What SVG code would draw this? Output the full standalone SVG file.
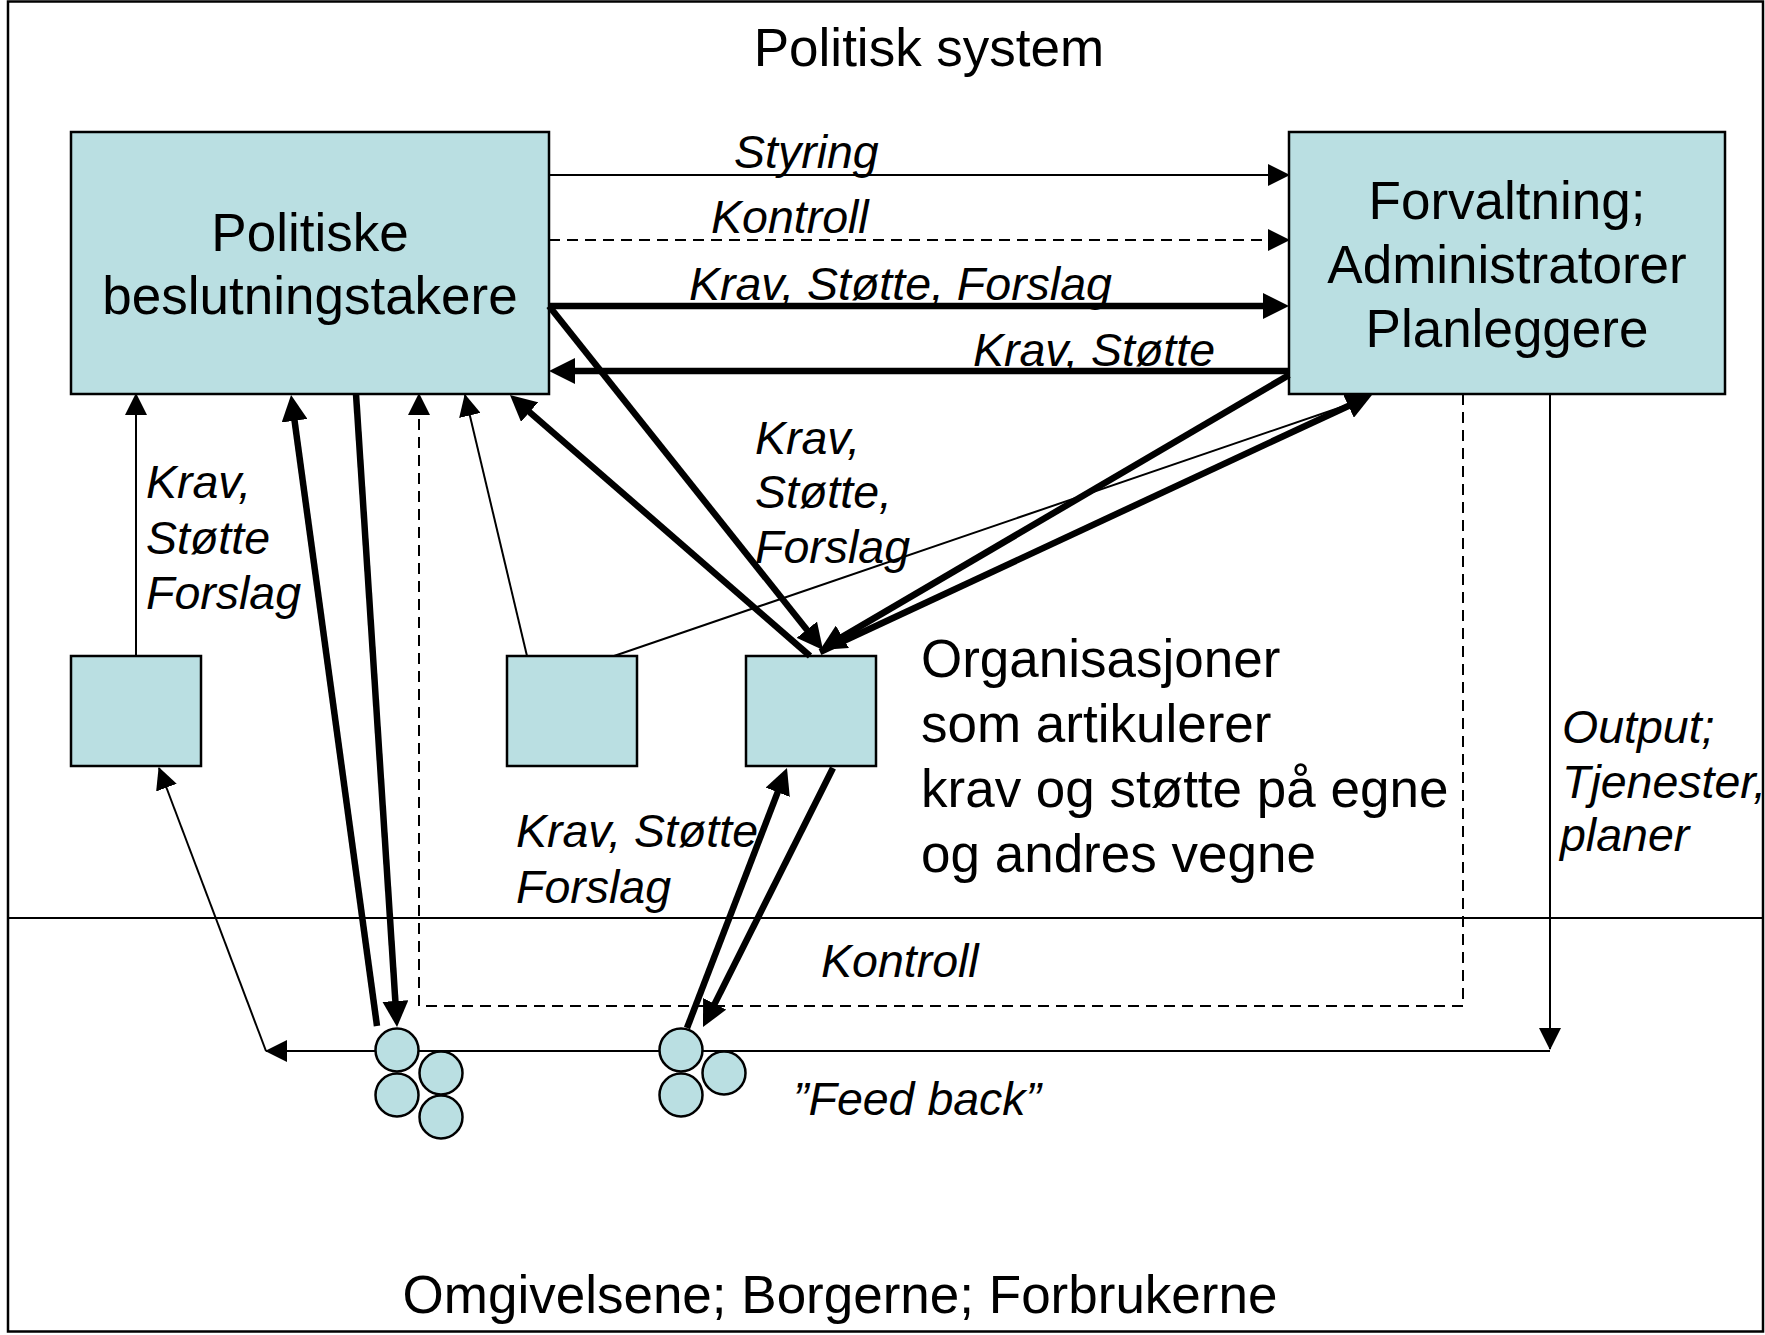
<svg xmlns="http://www.w3.org/2000/svg" width="1765" height="1335" viewBox="0 0 1765 1335">
<style>
.box{fill:#BADFE2;stroke:#000;stroke-width:2.5}
.main{font-family:"Liberation Sans",Arial,sans-serif;font-size:53px;fill:#000}
.lbl{font-family:"Liberation Sans",Arial,sans-serif;font-size:46.5px;font-style:italic;fill:#000}
.thin{fill:none;stroke:#000;stroke-width:2}
.dash{fill:none;stroke:#000;stroke-width:2;stroke-dasharray:11 7}
.thick{fill:none;stroke:#000;stroke-width:6.5}
.ta{marker-end:url(#arrThin)}
.tk{marker-end:url(#arrThick)}
</style>
<defs>
<marker id="arrThin" markerUnits="userSpaceOnUse" viewBox="0 0 22 22" markerWidth="22" markerHeight="22" refX="21" refY="11" orient="auto">
<path d="M0,0 L22,11 L0,22 z" fill="#000"/>
</marker>
<marker id="arrThick" markerUnits="userSpaceOnUse" viewBox="0 0 26 26" markerWidth="26" markerHeight="26" refX="16" refY="13" orient="auto">
<path d="M0,0 L26,13 L0,26 z" fill="#000"/>
</marker>
</defs>
<rect x="0" y="0" width="1765" height="1335" fill="#fff"/>
<g id="frame">
<rect x="8" y="1.5" width="1755" height="1330" fill="none" stroke="#000" stroke-width="2.5"/>
<line x1="8" y1="918" x2="1763" y2="918" stroke="#000" stroke-width="2"/>
<text class="main" x="929" y="66" text-anchor="middle">Politisk system</text>
<text class="main" x="840" y="1313" text-anchor="middle">Omgivelsene; Borgerne; Forbrukerne</text>
</g>
<g id="node-politiske">
<rect class="box" x="71" y="132" width="478" height="262"/>
<text class="main" x="310" y="251" text-anchor="middle">Politiske</text>
<text class="main" x="310" y="314" text-anchor="middle">beslutningstakere</text>
</g>
<g id="node-forvaltning">
<rect class="box" x="1289" y="132" width="436" height="262"/>
<text class="main" x="1507" y="219" text-anchor="middle">Forvaltning;</text>
<text class="main" x="1507" y="283" text-anchor="middle">Administratorer</text>
<text class="main" x="1507" y="347" text-anchor="middle">Planleggere</text>
</g>
<g id="node-org-a">
<rect class="box" x="71" y="656" width="130" height="110"/>
</g>
<g id="node-org-b">
<rect class="box" x="507" y="656" width="130" height="110"/>
</g>
<g id="node-org-c">
<rect class="box" x="746" y="656" width="130" height="110"/>
<text class="main" x="921" y="677">Organisasjoner</text>
<text class="main" x="921" y="742">som artikulerer</text>
<text class="main" x="921" y="807">krav og støtte på egne</text>
<text class="main" x="921" y="872">og andres vegne</text>
</g>
<g id="labels">
<text class="lbl" x="734" y="168">Styring</text>
<text class="lbl" x="711" y="233">Kontroll</text>
<text class="lbl" x="689" y="300">Krav, Støtte, Forslag</text>
<text class="lbl" x="973" y="366">Krav, Støtte</text>
<text class="lbl" x="146" y="498">Krav,</text>
<text class="lbl" x="146" y="554">Støtte</text>
<text class="lbl" x="146" y="609">Forslag</text>
<text class="lbl" x="755" y="454">Krav,</text>
<text class="lbl" x="755" y="508">Støtte,</text>
<text class="lbl" x="755" y="563">Forslag</text>
<text class="lbl" x="516" y="847">Krav, Støtte</text>
<text class="lbl" x="516" y="903">Forslag</text>
<text class="lbl" x="821" y="977">Kontroll</text>
<text class="lbl" x="1562" y="743">Output;</text>
<text class="lbl" x="1562" y="798">Tjenester,</text>
<text class="lbl" x="1560" y="851">planer</text>
<text class="lbl" x="793" y="1115">”Feed back”</text>
</g>
<g id="connectors">
<line class="thin ta" x1="549" y1="175" x2="1289" y2="175"/>
<line class="dash ta" x1="549" y1="240" x2="1289" y2="240"/>
<line class="thick tk" x1="549" y1="306" x2="1279" y2="306"/>
<line class="thick tk" x1="1289" y1="371" x2="559" y2="371"/>
<line class="thin ta" x1="136" y1="656" x2="136" y2="394"/>
<line class="thick tk" x1="377" y1="1026" x2="292.4" y2="404.9"/>
<line class="thick tk" x1="356" y1="394" x2="396.4" y2="1017"/>
<path class="dash ta" d="M1463,394 V1006 H419 V394"/>
<line class="thin ta" x1="527" y1="656" x2="465" y2="395"/>
<line class="thin" x1="614" y1="656" x2="1362" y2="400"/>
<line class="thick tk" x1="810" y1="656" x2="517.5" y2="401.6"/>
<line class="thick tk" x1="549" y1="306" x2="816.8" y2="642.2"/>
<line class="thick tk" x1="1289" y1="375" x2="828.6" y2="644.9"/>
<line class="thick tk" x1="820" y1="652" x2="1362.9" y2="399.2"/>
<line class="thick tk" x1="687" y1="1028" x2="783.4" y2="777.3"/>
<line class="thick tk" x1="833" y1="768" x2="707.5" y2="1018.1"/>
<line class="thin ta" x1="1550" y1="394" x2="1550" y2="1049"/>
<line class="thin ta" x1="1550" y1="1051" x2="266" y2="1051"/>
<line class="thin ta" x1="266" y1="1051" x2="159" y2="768"/>
</g>
<g id="node-citizens-1">
<circle class="box" cx="397" cy="1050" r="21.5"/>
<circle class="box" cx="441" cy="1073" r="21.5"/>
<circle class="box" cx="397" cy="1095" r="21.5"/>
<circle class="box" cx="441" cy="1117" r="21.5"/>
</g>
<g id="node-citizens-2">
<circle class="box" cx="681" cy="1050" r="21.5"/>
<circle class="box" cx="724" cy="1073" r="21.5"/>
<circle class="box" cx="681" cy="1095" r="21.5"/>
</g>
</svg>
